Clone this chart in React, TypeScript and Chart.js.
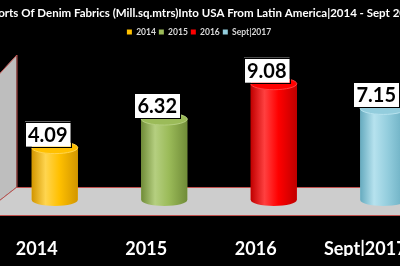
import { useEffect, useRef } from "react";
import { Chart, registerables } from "chart.js";

Chart.register(...registerables);

const titleText =
  "Imports Of Denim Fabrics (Mill.sq.mtrs)Into USA From Latin America|2014 - Sept 2017";
const categories = ["2014", "2015", "2016", "Sept|2017"];
const values = [4.09, 6.32, 9.08, 7.15];
const barColors = ["#FFC000", "#9BBB59", "#FF0000", "#93CDDD"];
const darkShades = ["#D29600", "#708C38", "#C00000", "#66ABBF"];
const lightShades = ["#FFD54F", "#B5CF80", "#FF4040", "#B6E2EE"];

const FONT = "Lato, 'Open Sans', sans-serif";

const sceneryPlugin = {
  id: "scenery",
  beforeDraw(chart: any) {
    const { ctx } = chart;
    ctx.save();
    ctx.fillStyle = "#000000";
    ctx.fillRect(0, 0, chart.width, chart.height);
    ctx.restore();
  },
  beforeDatasetsDraw(chart: any) {
    const { ctx, chartArea } = chart;
    const y0 = chart.scales.y.getPixelForValue(0);
    const wallX = chartArea.left + 16.5;
    const floorTop = y0 - 13;
    const floorBot = y0 + 15;
    const R = chart.width + 5;
    const ext = 40;
    ctx.save();
    ctx.lineWidth = 1;
    ctx.strokeStyle = "#C0504D";
    // floor
    ctx.beginPath();
    ctx.moveTo(wallX, floorTop);
    ctx.lineTo(R, floorTop);
    ctx.lineTo(R, floorBot);
    ctx.lineTo(wallX - (floorBot - floorTop) * (16.5 / 13), floorBot);
    ctx.closePath();
    ctx.fillStyle = "#CDCDCD";
    ctx.fill();
    ctx.beginPath();
    ctx.moveTo(wallX, floorTop + 0.5);
    ctx.lineTo(R, floorTop + 0.5);
    ctx.moveTo(wallX - 60, floorBot + 0.5);
    ctx.lineTo(R, floorBot + 0.5);
    ctx.stroke();
    // wall
    const wallTop = 55;
    ctx.beginPath();
    ctx.moveTo(wallX, wallTop);
    ctx.lineTo(wallX, floorTop);
    ctx.lineTo(wallX - ext, floorTop + ext * (13 / 16.5));
    ctx.lineTo(wallX - ext, wallTop + ext * (18 / 16.5));
    ctx.closePath();
    ctx.fillStyle = "#BEBEBE";
    ctx.fill();
    ctx.beginPath();
    ctx.moveTo(wallX - ext, wallTop + ext * (18 / 16.5));
    ctx.lineTo(wallX + 0.5, wallTop);
    ctx.lineTo(wallX + 0.5, floorTop);
    ctx.lineTo(wallX - ext, floorTop + ext * (13 / 16.5));
    ctx.stroke();
    ctx.restore();
  },
  afterDatasetsDraw(chart: any) {
    const { ctx } = chart;
    const meta = chart.getDatasetMeta(0);
    const ry = 6;
    ctx.save();
    meta.data.forEach((el: any, i: number) => {
      const cx = el.x;
      const hw = el.width / 2;
      const top = el.y;
      const base = el.base;
      const g = ctx.createLinearGradient(cx - hw, 0, cx + hw, 0);
      g.addColorStop(0, darkShades[i]);
      g.addColorStop(0.3, lightShades[i]);
      g.addColorStop(0.6, barColors[i]);
      g.addColorStop(1, darkShades[i]);
      ctx.beginPath();
      ctx.moveTo(cx - hw, top);
      ctx.lineTo(cx - hw, base);
      ctx.ellipse(cx, base, hw, ry, 0, Math.PI, 0, true);
      ctx.lineTo(cx + hw, top);
      ctx.ellipse(cx, top, hw, ry, 0, 0, Math.PI, false);
      ctx.closePath();
      ctx.fillStyle = g;
      ctx.fill();
      // top cap
      ctx.beginPath();
      ctx.ellipse(cx, top, hw, ry, 0, 0, Math.PI * 2);
      ctx.fillStyle = barColors[i];
      ctx.fill();
      ctx.strokeStyle = lightShades[i];
      ctx.lineWidth = 1;
      ctx.stroke();
    });
    // value labels
    ctx.font = `bold 20px ${FONT}`;
    ctx.textAlign = "center";
    ctx.textBaseline = "middle";
    meta.data.forEach((el: any, i: number) => {
      const txt = values[i].toFixed(2);
      const w = ctx.measureText(txt).width + 6;
      const h = 25;
      const bx = el.x - 7 - w / 2;
      const by = el.y - 1 - h;
      ctx.fillStyle = "#FFFFFF";
      ctx.fillRect(bx, by, w, h);
      ctx.strokeStyle = "#000000";
      ctx.lineWidth = 1;
      ctx.strokeRect(Math.round(bx) + 0.5, Math.round(by) + 0.5, Math.round(w), h);
      ctx.fillStyle = "#000000";
      ctx.fillText(txt, el.x - 7, by + h / 2 + 1);
    });
    ctx.restore();
  },
};

export default function App() {
  const ref = useRef<HTMLCanvasElement | null>(null);
  useEffect(() => {
    if (!ref.current) return;
    const chart = new Chart(ref.current, {
      type: "bar",
      data: {
        labels: categories,
        datasets: [
          {
            data: values,
            backgroundColor: barColors,
            borderWidth: 0,
            barPercentage: 0.42,
            categoryPercentage: 1,
          },
        ],
      },
      options: {
        responsive: false,
        animation: false,
        events: [],
        layout: { padding: { left: 0, right: 0, top: 0, bottom: 10 } },
        plugins: {
          title: {
            display: true,
            text: titleText,
            color: "#FFFFFF",
            font: { family: FONT, size: 11.5, weight: "bold" },
            padding: { top: 6, bottom: 5 },
          },
          legend: {
            display: true,
            position: "top",
            labels: {
              color: "#D9D9D9",
              font: { family: FONT, size: 8.5, weight: "bold" },
              boxWidth: 5,
              boxHeight: 5,
              padding: 3,
              generateLabels: () =>
                categories.map((c, i) => ({
                  text: c,
                  fillStyle: barColors[i],
                  strokeStyle: barColors[i],
                  lineWidth: 0,
                  hidden: false,
                  index: i,
                  fontColor: "#D9D9D9",
                })),
            },
          },
          tooltip: { enabled: false },
        },
        scales: {
          x: {
            grid: { display: false, drawTicks: true, tickLength: 38 },
            border: { display: false },
            ticks: {
              color: "#FFFFFF",
              font: { family: FONT, size: 18, weight: "bold" },
              padding: 0,
              labelOffset: -18,
              maxRotation: 0,
              minRotation: 0,
              autoSkip: false,
            },
            afterFit: (scale: any) => {
              scale.height = 56;
            },
          },
          y: {
            min: 0,
            max: 12,
            grid: { display: false, drawTicks: false },
            border: { display: false },
            ticks: { display: false },
            afterFit: (scale: any) => {
              scale.width = 40;
            },
          },
        },
      },
      plugins: [sceneryPlugin],
    });
    return () => chart.destroy();
  }, []);
  return (
    <div
      style={{
        position: "absolute",
        left: -40,
        top: 0,
        width: 478,
        height: 266,
        background: "#000",
      }}
    >
      <canvas ref={ref} width={478} height={266} style={{ display: "block" }} />
    </div>
  );
}
